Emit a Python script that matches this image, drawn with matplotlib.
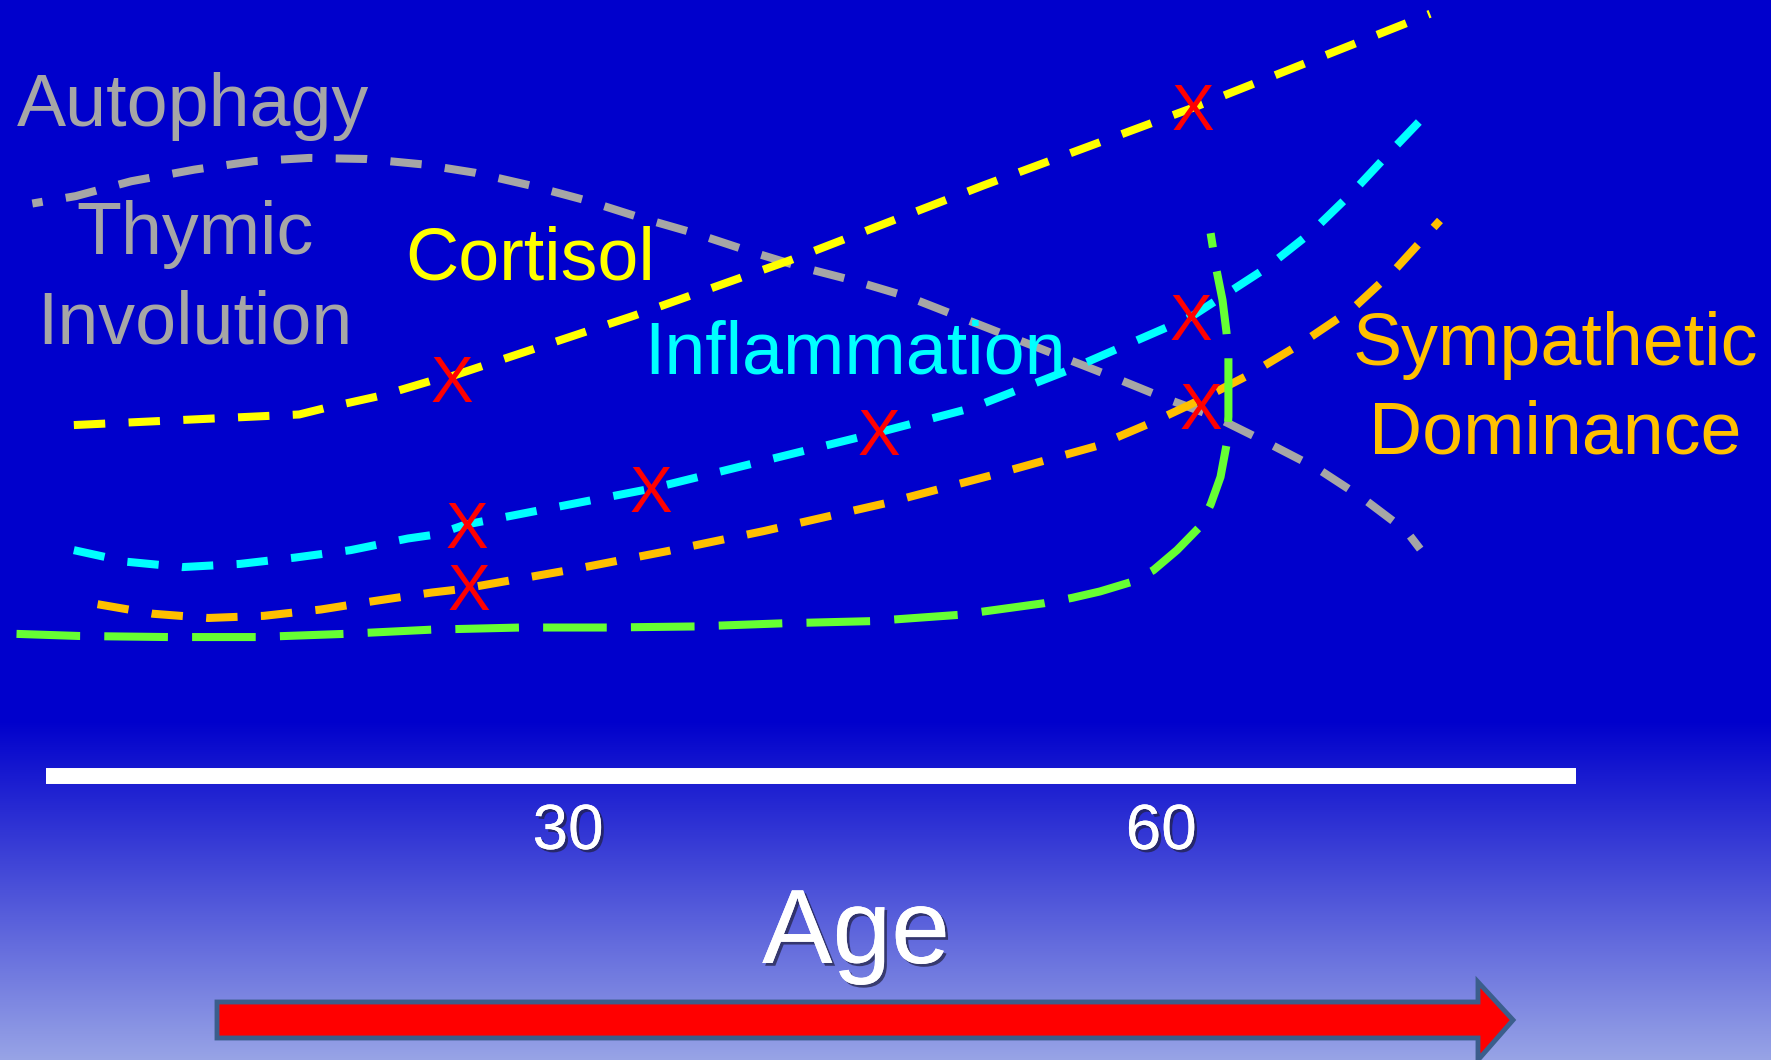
import numpy as np
import matplotlib
matplotlib.use("Agg")
import matplotlib.pyplot as plt
from matplotlib.patches import Polygon
from matplotlib import patheffects
from matplotlib.transforms import offset_copy

plt.rcParams['font.family'] = ['Liberation Sans', 'DejaVu Sans']

# x = age (years), y = relative level (0..100)
cortisol_age = [5.0, 16.4, 17.7, 20.6, 23.3, 24.1, 33.3, 41.3, 51.0, 61.7, 73.6]
cortisol_lvl = [59.9, 60.9, 61.5, 62.7, 64.2, 64.5, 70.2, 75.5, 82.5, 89.9, 98.7]

inflam_age = [5.0, 7.7, 10.5, 13.4, 16.2, 19.0, 21.9, 23.4, 24.8, 34.2, 45.7, 50.4, 55.2,
              61.5, 65.3, 67.6, 69.7, 71.6, 73.5]
inflam_lvl = [48.1, 47.0, 46.5, 46.8, 47.4, 48.1, 49.2, 49.6, 50.5, 53.9, 59.2, 61.5, 65.0,
              70.1, 74.7, 78.1, 81.9, 85.7, 89.4]

symp_age = [6.2, 9.0, 11.8, 14.6, 17.5, 20.2, 23.1, 24.5, 30.3, 35.0, 39.9, 46.0, 51.5,
            56.7, 59.6, 62.0, 64.4, 67.0, 69.7, 71.9, 74.1]
symp_lvl = [43.0, 42.1, 41.7, 41.9, 42.5, 43.3, 44.1, 44.4, 46.3, 48.0, 49.9, 52.5, 55.2,
            57.9, 60.2, 62.3, 64.6, 67.5, 70.9, 74.7, 79.2]

thymic_age = [2.1, 5.3, 9.8, 14.2, 18.7, 23.1, 27.6, 32.0, 36.4, 40.9, 45.3, 49.8, 54.1,
              55.5, 56.9, 58.5, 59.6, 60.8, 61.9, 62.5, 63.0, 63.3, 63.4, 63.4, 63.4,
              63.3, 63.1, 62.8, 62.5]
thymic_lvl = [40.2, 40.0, 39.9, 39.9, 40.2, 40.6, 40.8, 40.8, 40.9, 41.2, 41.4, 42.0, 43.1,
              43.6, 44.2, 45.1, 46.2, 48.1, 50.2, 52.4, 55.0, 58.0, 60.7, 63.5, 66.3,
              68.7, 71.7, 74.5, 78.0]

autoph_age = [2.9, 5.1, 7.9, 11.1, 14.1, 16.9, 19.8, 22.6, 25.3, 28.1, 30.9, 33.6, 36.4, 39.0,
              41.8, 44.5, 47.2, 49.8, 52.4, 55.0, 57.6, 60.1, 62.7, 65.3, 67.9, 70.2, 72.4, 73.1]
autoph_lvl = [80.8, 81.5, 82.9, 84.0, 84.8, 85.1, 85.0, 84.5, 83.7, 82.5, 81.1, 79.5, 78.0, 76.4,
              74.8, 73.5, 72.0, 70.1, 68.2, 66.3, 64.4, 62.5, 60.7, 58.3, 55.8, 53.0, 49.9, 48.2]

mark_age = [24.1, 61.6, 24.9, 34.2, 45.7, 61.5, 25.0, 62.0]
mark_lvl = [64.2, 89.9, 50.5, 53.9, 59.2, 70.1, 44.6, 61.7]

tick_ages = [30, 60]
tick_labels = ["30", "60"]
axis_start, axis_end, axis_lvl = 3.6, 81.0, 26.8

W, H = 1771, 1060
fig = plt.figure(figsize=(W / 100, H / 100), dpi=100)

# background: flat blue, then fading to lavender near the bottom
bg = fig.add_axes([0, 0, 1, 1])
bg.axis('off')
rows = np.arange(H)
t = np.clip((rows - 720) / (H - 720), 0, 1)
top = np.array([0, 0, 204]) / 255
bot = np.array([152, 164, 230]) / 255
col = top[None, :] * (1 - t[:, None]) + bot[None, :] * t[:, None]
bg.imshow(col[:, None, :].repeat(4, axis=1), aspect='auto', extent=[0, 1, 0, 1],
          interpolation='nearest')
bg.set_xlim(0, 1)
bg.set_ylim(0, 1)

ax = fig.add_axes([0, 0, 1, 1], facecolor='none')
ax.set_xlim((0 + 25) / 19.77, (W + 25) / 19.77)
ax.set_ylim(0, 100)
ax.axis('off')

lw = 5.8
short = (3.9, 2.9)
ax.plot(autoph_age, autoph_lvl, color='#A6A6A6', lw=lw, ls=(2.6, short))
ax.plot(cortisol_age, cortisol_lvl, color='#FFFF00', lw=lw, dashes=short)
ax.plot(inflam_age, inflam_lvl, color='#00FFFF', lw=lw, dashes=short)
ax.plot(symp_age, symp_lvl, color='#FFC000', lw=lw, dashes=short)
ax.plot(thymic_age, thymic_lvl, color='#66FF33', lw=lw, dashes=(7.9, 3.0))

mark_tr = offset_copy(ax.transData, fig=fig, x=0, y=-23, units='dots')
for a, l in zip(mark_age, mark_lvl):
    ax.text(a, l, "X", color='#FF0000', fontsize=46, ha='center', va='baseline',
            transform=mark_tr)

# age axis
ax.hlines(axis_lvl, axis_start, axis_end, color='white', lw=11.5)
shadow = [patheffects.withSimplePatchShadow(offset=(2, -2), shadow_rgbFace='#202040', alpha=0.7),
          patheffects.Normal()]
for a, lab in zip(tick_ages, tick_labels):
    ax.text(a, (H - 849) / 10.6, lab, color='white', fontsize=46, ha='center',
            va='baseline', path_effects=shadow)
fig.text(856 / W, 1 - 963 / H, "Age", color='white', fontsize=76, ha='center',
         va='baseline', path_effects=shadow)

# labels
fs = 53
fig.text(17 / W, 1 - 126 / H, "Autophagy", color='#A6A6A6', fontsize=fs, va='baseline')
fig.text(195 / W, 1 - 254 / H, "Thymic", color='#A6A6A6', fontsize=fs, va='baseline', ha='center')
fig.text(195 / W, 1 - 343 / H, "Involution", color='#A6A6A6', fontsize=fs, va='baseline', ha='center')
fig.text(405 / W, 1 - 279 / H, "Cortisol", color='#FFFF00', fontsize=fs, va='baseline')
fig.text(644 / W, 1 - 373 / H, "Inflammation", color='#00FFFF', fontsize=fs, va='baseline')
fig.text(1555 / W, 1 - 365 / H, "Sympathetic", color='#FFC000', fontsize=fs, va='baseline', ha='center')
fig.text(1555 / W, 1 - 454 / H, "Dominance", color='#FFC000', fontsize=fs, va='baseline', ha='center')

# big red arrow at the bottom
pts = [(217, 1002), (1478, 1002), (1478, 982), (1513, 1020), (1478, 1060),
       (1478, 1038), (217, 1038)]
arrow = Polygon([(x / W, 1 - y / H) for x, y in pts], closed=True, facecolor='#FF0000',
                edgecolor='#3B5E8C', lw=3.5, joinstyle='miter', transform=fig.transFigure)
fig.patches.append(arrow)

fig.savefig("out.png", dpi=100)
